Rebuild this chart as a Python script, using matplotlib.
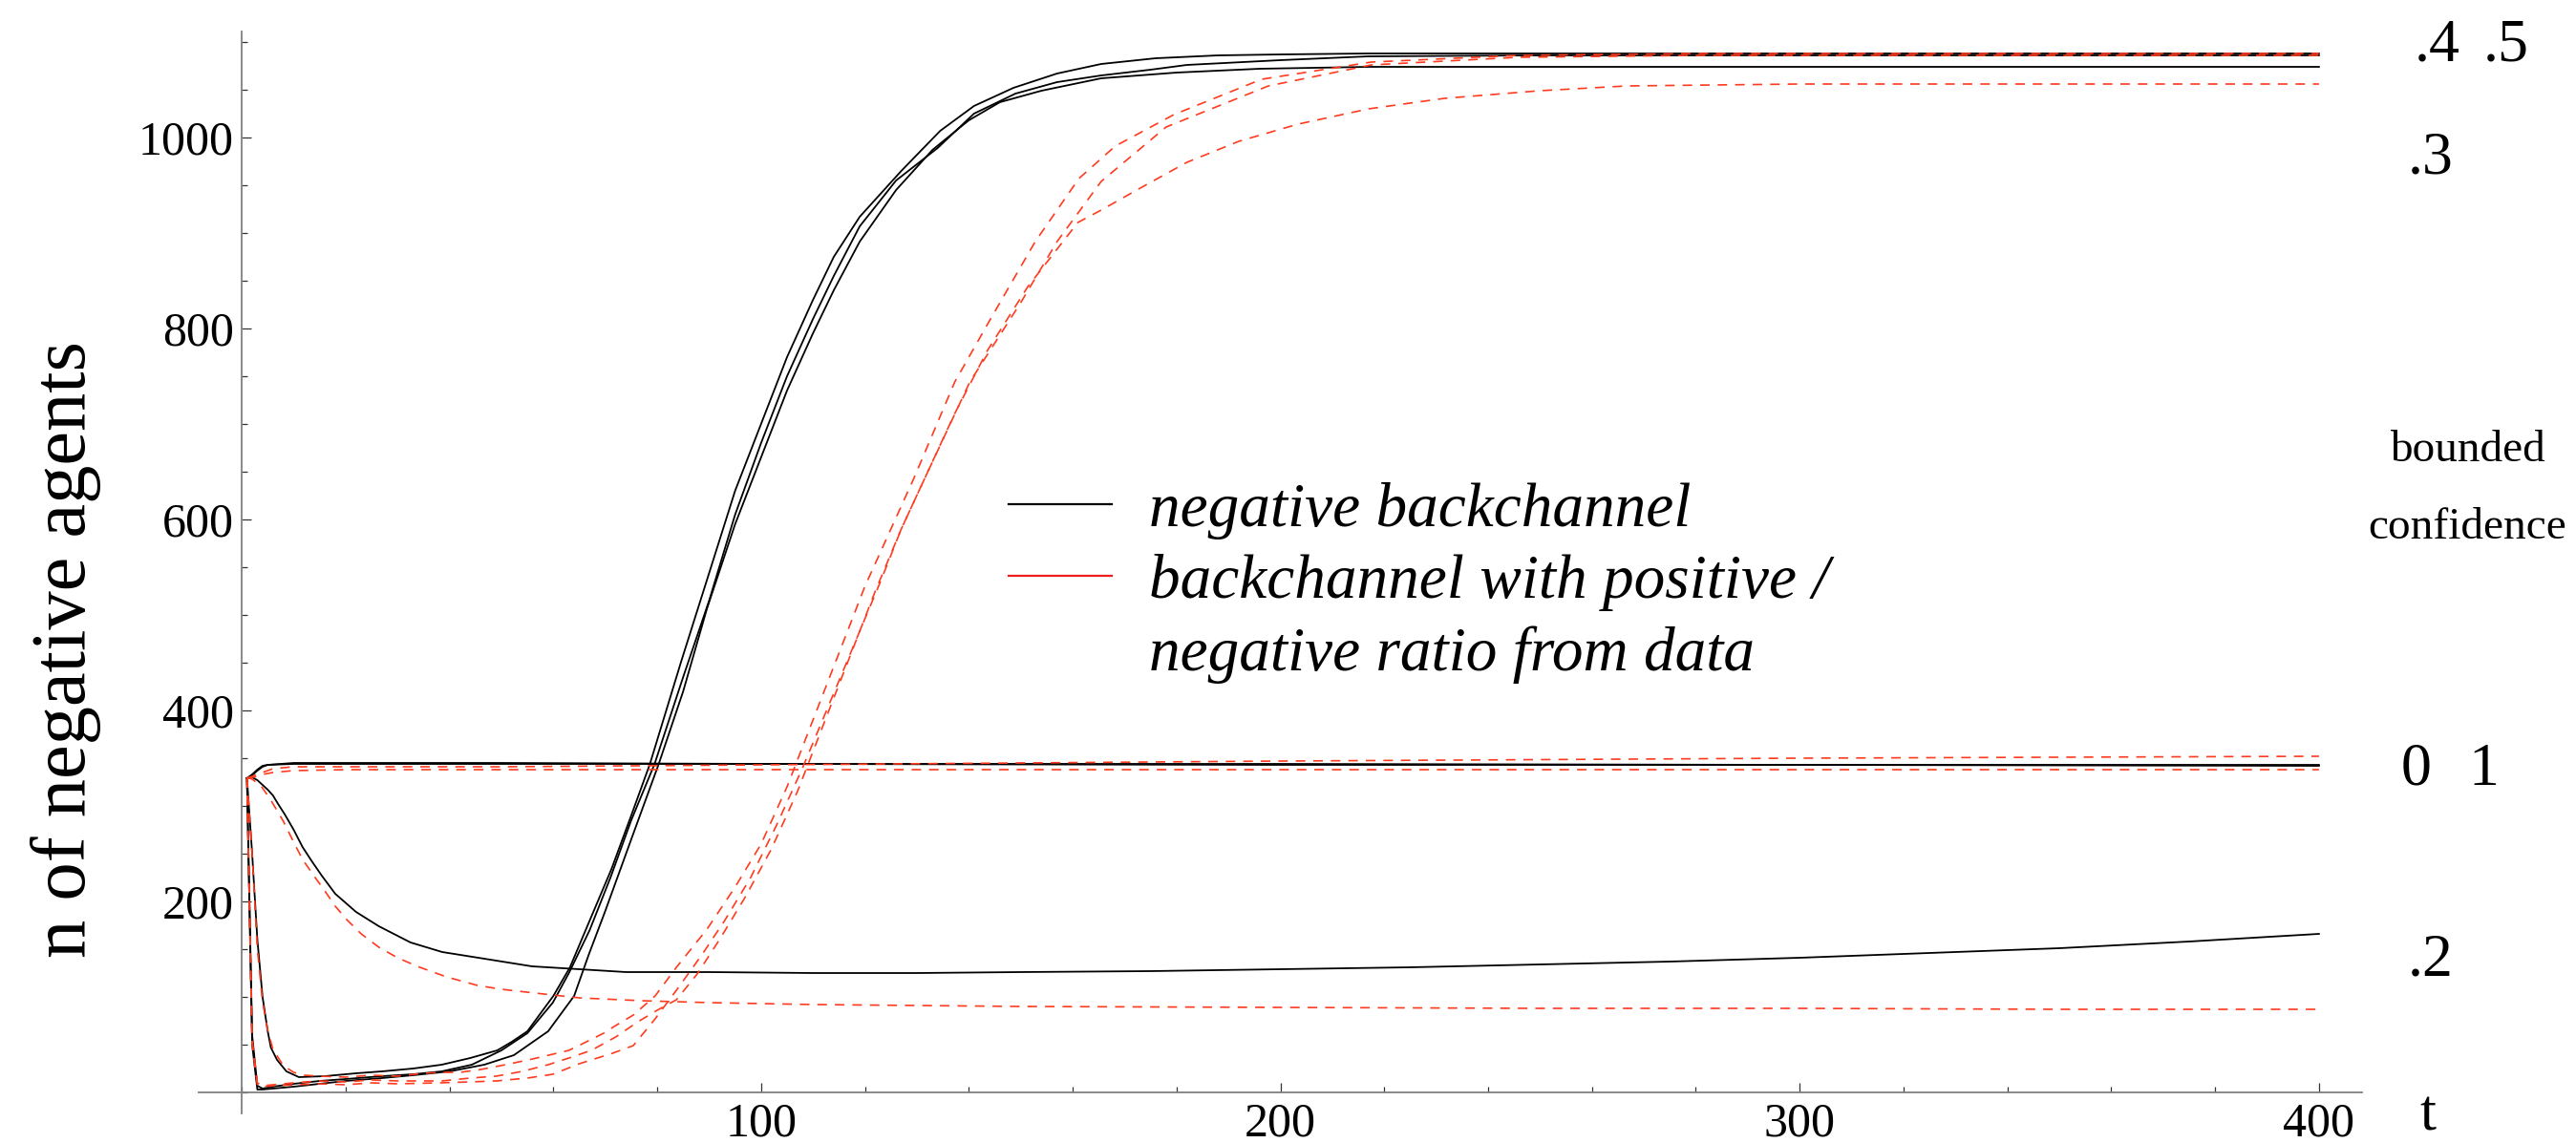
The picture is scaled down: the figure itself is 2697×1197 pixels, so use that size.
import matplotlib
matplotlib.use("Agg")
import matplotlib.pyplot as plt
from matplotlib.lines import Line2D
from matplotlib.ticker import MultipleLocator

# ---- data (t, n of negative agents) ----
# flat runs, bounded confidence 0 and 1
t_flat_k = [1, 2, 3, 4, 5, 10, 50, 100, 200, 300, 400]
black_0 = [329, 333, 338, 342, 343, 344, 344, 344, 343, 343, 343]
black_1 = [329, 332, 337, 341, 343, 345, 345, 344, 344, 343, 342]

t_flat_r = [1, 2, 3, 4, 5, 6, 8, 10, 20, 50, 100, 200, 300, 400]
red_0 = [329, 331, 333, 335, 337, 339, 340, 341, 341, 341, 343, 347, 350, 352]
red_1 = [329, 330, 331, 333, 334, 335, 336, 337, 338, 338, 338, 338, 338, 338]

# bounded confidence .2
t_k2 = [1, 2, 3, 4, 5, 6, 7, 8.3, 10, 11.7, 13.5, 15.4, 18, 22, 26.4, 32.5, 38.6, 46.7,
        55.9, 65, 74, 90, 110, 130, 150, 175, 200, 225, 250, 275, 300, 325, 350, 375, 400]
black_2 = [329, 330, 327, 322, 317, 311, 302, 291, 275, 257, 242, 227, 208, 189, 174, 157, 147, 140,
           132, 129, 126, 126, 125, 125, 126, 127, 129, 131, 134, 137, 141, 146, 151, 158, 166]

t_r2 = [1, 2, 3.7, 5.5, 8, 10, 11.7, 14, 16, 18, 20.2, 23, 26.4, 30, 33.8, 39.4, 45.4, 50,
        56.5, 65, 77, 90, 110, 130, 150, 200, 250, 300, 350, 400]
red_2 = [330, 328, 321, 307, 284, 262, 244, 226, 211, 195, 181, 166, 152, 141, 132, 121, 112, 108,
         104, 99, 96, 94, 92, 91, 90, 89, 88, 88, 87, 87]

# bounded confidence .3 / .4 / .5, negative backchannel
t_ka = [1, 2, 3, 4, 5, 5.6, 6.8, 8.6, 11, 16, 22, 27, 33, 38.5, 44, 49.2, 52, 55, 57.7, 60, 63.2,
        67, 71.2, 75, 78.6, 84.6, 89.6, 95, 100, 105, 110, 114, 119, 127, 134.5, 141, 148.6, 157,
        165.5, 176, 188, 200, 217, 250, 300, 350, 400]
black_a = [329, 250, 160, 100, 64, 47, 34, 22, 16, 17, 20, 22, 25, 29, 36, 44, 53, 64, 84, 101, 131,
           180, 234, 290, 344, 451, 537, 630, 700, 770, 830, 875, 917, 965, 1007, 1033, 1052, 1067,
           1077, 1083, 1086, 1087, 1088, 1088, 1088, 1088, 1088]

t_kb = [1, 2, 3, 4, 6, 10, 15, 20, 27, 33, 38.5, 44.3, 50, 55, 59.9, 63, 67, 71, 75, 79.5, 85, 90,
        95, 100, 105, 110, 114, 119, 126, 134, 141, 149, 157, 165.5, 175, 182, 200, 217, 250, 300, 400]
black_b = [329, 60, 7, 4, 6, 9, 12, 14, 17, 19, 22, 29, 44, 62, 94, 125, 170, 225, 285, 344, 435, 515,
           605, 680, 750, 810, 855, 907, 955, 989, 1025, 1046, 1058, 1065, 1071, 1076, 1081, 1085,
           1086, 1086, 1086]

t_kc = [1, 2, 3, 4, 6, 10, 15, 20, 27, 33, 40, 46.7, 52.4, 59, 64, 66.8, 70, 75, 80.3, 85, 89.6, 95,
        100, 105, 110, 114, 119, 126, 133, 140, 146, 154, 165.5, 180, 196, 217, 250, 300, 400]
black_c = [329, 50, 3, 3, 4, 6, 9, 12, 15, 18, 22, 29, 39, 64, 101, 144, 190, 265, 344, 420, 507, 595,
           665, 735, 795, 840, 891, 945, 987, 1018, 1037, 1049, 1062, 1068, 1072, 1074, 1074, 1074, 1074]

# bounded confidence .3 / .4 / .5, ratio from data
t_ra = [1, 2, 3, 4, 5, 6, 8, 10, 12, 15, 20, 25, 30, 35, 38.5, 42, 46, 50.8, 56, 63, 66, 69.7, 72,
        75.4, 79.6, 83.7, 89.6, 95, 100, 105, 110, 115, 120, 125, 129.5, 137.3, 144.3, 152.8, 161.2,
        168.2, 179.5, 196.4, 217.5, 245.7, 280, 400]
red_a = [329, 250, 150, 95, 65, 45, 28, 21, 18, 17, 16, 18, 17, 20, 21, 21, 24, 29, 35, 44, 52, 62, 70,
         81, 101, 131, 171, 215, 260, 320, 390, 460, 530, 590, 644, 744, 811, 891, 957,
         991, 1024, 1061, 1079, 1086, 1088, 1088]

t_rb = [1, 2, 3, 4, 6, 10, 15, 20, 25, 30, 38.5, 44, 49, 54, 59, 63, 67.3, 72, 76.3, 80, 83.7, 87.7,
        92, 97, 102, 107, 112, 117, 122, 127, 131.6, 140.2, 150, 157, 165.5, 178, 197.7, 217.5,
        245.7, 280, 400]
red_b = [329, 55, 10, 7, 8, 10, 12, 11, 13, 12, 12, 15, 17, 22, 29, 36, 44, 58, 74, 86, 97, 124,
         160, 205, 255, 315, 385, 455, 525, 590, 644, 744, 827, 891, 954, 1011, 1054, 1076,
         1084, 1086, 1086]

t_rc = [1, 2, 3, 4, 6, 10, 15, 20, 25, 30, 38, 44, 49, 55, 59.9, 65, 71.4, 75.4, 79.6, 83.7, 88.6,
        93, 98, 103, 108, 113, 118, 123, 127, 131.6, 137.3, 143.6, 151.4, 161, 165.5, 174, 182,
        192, 203.4, 217, 231.6, 250, 266.7, 300, 400]
red_c = [329, 50, 8, 6, 7, 8, 9, 8, 10, 9, 10, 11, 12, 15, 19, 30, 41, 49, 77, 107, 144,
         180, 225, 280, 340, 405, 470, 535, 590, 644, 711, 777, 844, 911, 924, 950, 974,
         996, 1014, 1030, 1041, 1049, 1054, 1056, 1056]

black_runs = [(t_flat_k, black_0), (t_flat_k, black_1), (t_k2, black_2),
              (t_ka, black_a), (t_kb, black_b), (t_kc, black_c)]
red_runs = [(t_flat_r, red_0), (t_flat_r, red_1), (t_r2, red_2),
            (t_ra, red_a), (t_rb, red_b), (t_rc, red_c)]

# labels at the right margin: (text, x px, baseline y px)
bc_labels = [(".4", 2528, 63), (".5", 2600, 63), (".3", 2521, 182),
             ("0", 2514, 822), ("1", 2584, 822), (".2", 2521, 1022)]

W, H = 2697, 1197
plt.rcParams['font.family'] = 'serif'
plt.rcParams['font.serif'] = ['Liberation Serif', 'DejaVu Serif']

fig = plt.figure(figsize=(W / 100, H / 100), dpi=100)
ax = fig.add_axes([208 / W, 31 / H, 2265 / W, 1133 / H])
ax.set_xlim(-8.3, 408.3)
ax.set_ylim(-22, 1111)

red = '#ff3b1f'
for t, v in black_runs:
    ax.plot(t, v, color='black', lw=1.3, solid_joinstyle='round')
for t, v in red_runs:
    ax.plot(t, v, color=red, lw=1.2, dashes=(6, 5))

# Mathematica-like axes through the origin
for s in ('top', 'right'):
    ax.spines[s].set_visible(False)
ax.spines['left'].set_position(('data', 0))
ax.spines['bottom'].set_position(('data', 0))
for s in ('left', 'bottom'):
    ax.spines[s].set_color('#808080')
    ax.spines[s].set_linewidth(1.3)

ax.set_xticks([100, 200, 300, 400])
ax.set_yticks([200, 400, 600, 800, 1000])
ax.xaxis.set_minor_locator(MultipleLocator(20))
ax.yaxis.set_minor_locator(MultipleLocator(50))
ax.tick_params(which='both', direction='in', color='#333333', width=0.9, labelsize=36)
ax.tick_params(which='major', length=7.5)
ax.tick_params(which='minor', length=4)
ax.tick_params(axis='x', pad=7)
ax.tick_params(axis='y', pad=6)

handles = [Line2D([], [], color='black', lw=1.6),
           Line2D([], [], color='#ee1c1c', lw=1.6),
           Line2D([], [], color='none')]
labels = ['negative backchannel', 'backchannel with positive /', 'negative ratio from data']
ax.legend(handles, labels, loc='upper left', bbox_to_anchor=(1056 / W, 1 - 505 / H),
          bbox_transform=fig.transFigure, frameon=False,
          prop={'family': 'serif', 'style': 'italic', 'size': 47},
          handlelength=1.65, handletextpad=0.6, borderpad=0, borderaxespad=0,
          labelspacing=0.23)


def px(x, y):
    return x / W, 1 - y / H


for txt, x, y in bc_labels:
    fig.text(*px(x, y), txt, fontsize=46, ha='left', va='baseline')
fig.text(*px(2583, 483), 'bounded', fontsize=34, ha='center', va='baseline')
fig.text(*px(2583, 564), 'confidence', fontsize=34, ha='center', va='baseline')
fig.text(*px(2542, 1184), 't', fontsize=44, ha='center', va='baseline')
fig.text(*px(69, 680), 'n of negative agents', fontsize=58, rotation=90,
         ha='center', va='center')

fig.savefig('out.png', dpi=100)
